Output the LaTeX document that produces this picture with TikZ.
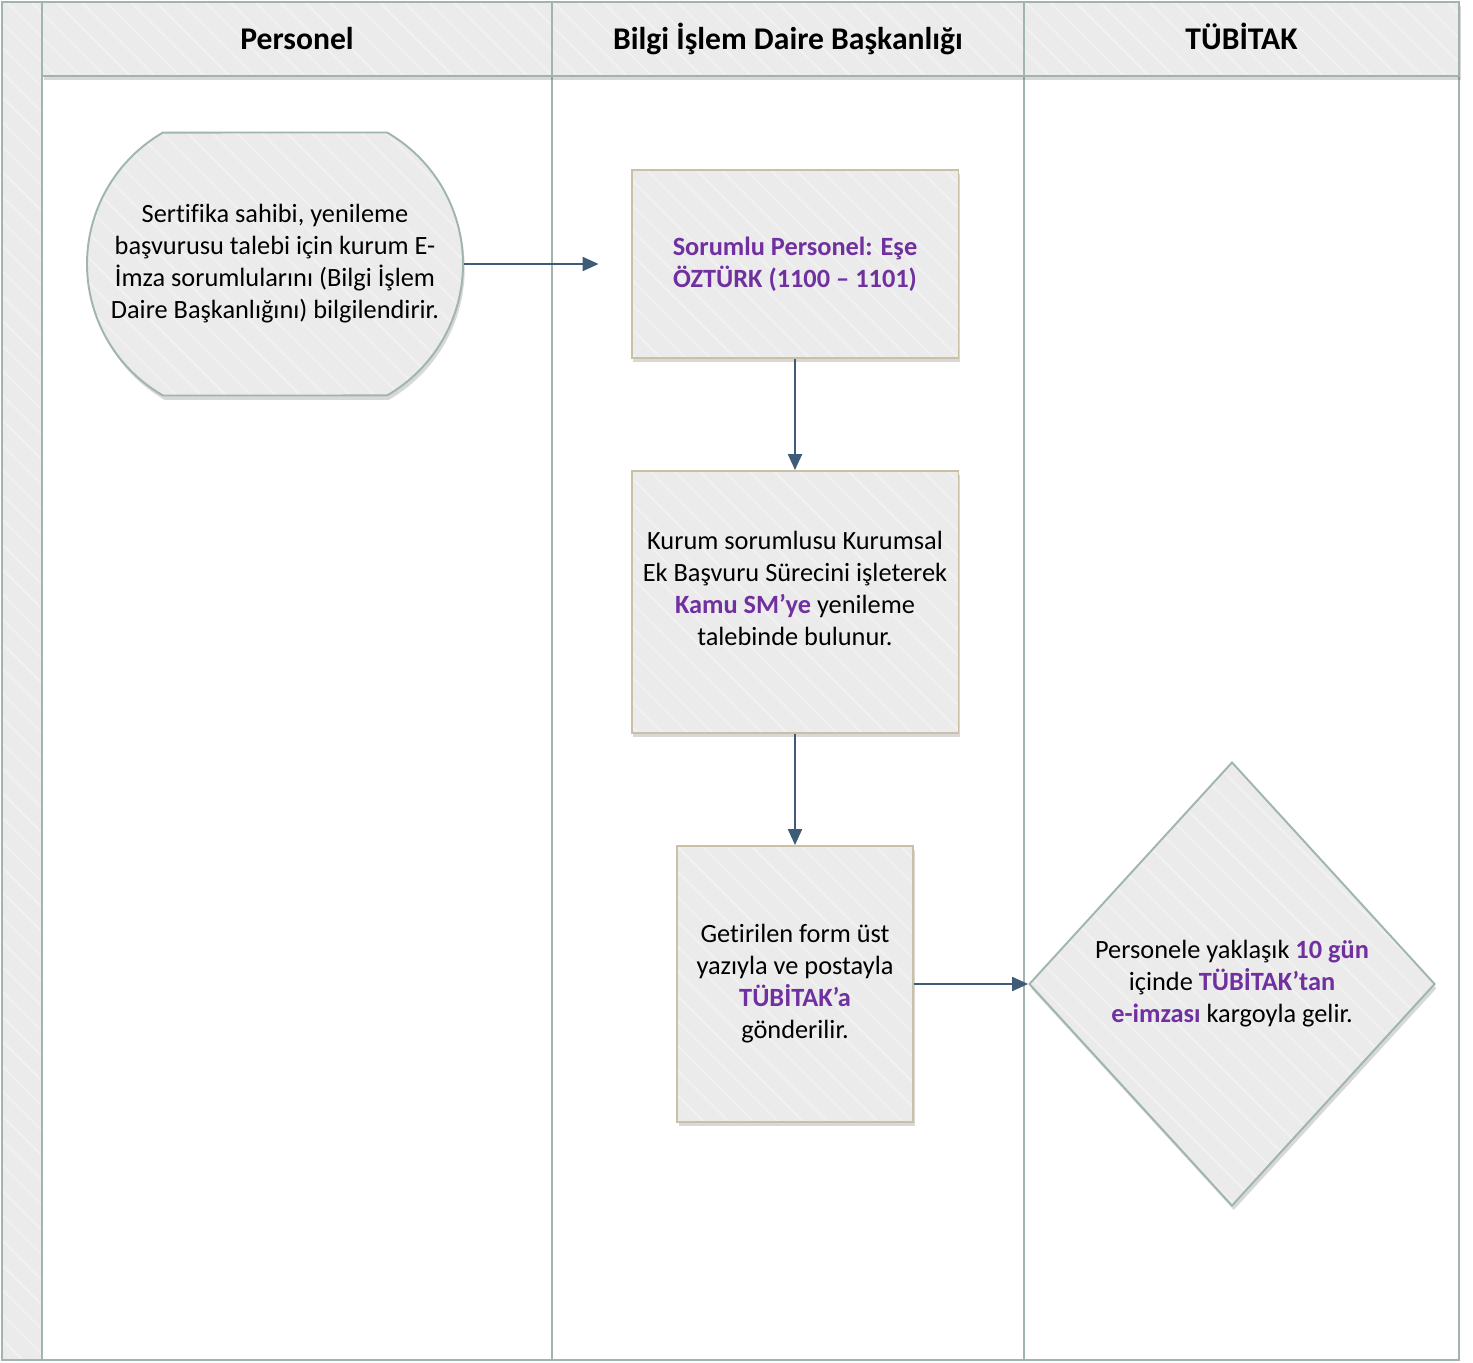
\documentclass[tikz,border=0pt]{standalone}
\usepackage{fontspec}
\setmainfont{Carlito}[Ligatures=NoCommon]
\usepackage{tikz}
\usetikzlibrary{shapes.geometric, shapes.misc, arrows.meta, shadows, patterns.meta}
\definecolor{lane}{RGB}{160, 181, 174}
\definecolor{boxline}{RGB}{201, 192, 166}
\definecolor{shade}{RGB}{235, 235, 235}
\definecolor{stripe}{RGB}{241, 241, 241}
\definecolor{flow}{RGB}{62, 91, 120}
\definecolor{accent}{RGB}{112, 48, 160}

\tikzset{
  hatch/.style={preaction={fill=shade}, preaction={pattern={Lines[angle=-45, distance=10pt, line width=1.2pt]}, pattern color=stripe}},
  softshadow/.style={drop shadow={shadow xshift=1pt, shadow yshift=-2.5pt, opacity=0.22, fill=black!70}},
  body/.style={font=\fontsize{15}{18.2}\selectfont, align=center, inner sep=0pt},
  header/.style={font=\fontsize{18}{22}\selectfont\bfseries, anchor=base},
  task/.style={body, rectangle, softshadow, hatch, draw=boxline, line width=1.1pt},
  terminal/.style={body, rounded rectangle, rounded rectangle arc length=120, softshadow, hatch, draw=lane, line width=1.1pt},
  choice/.style={body, diamond, softshadow, hatch, draw=lane, line width=1.1pt},
  flowline/.style={->, >={Triangle[length=0.32cm, width=0.28cm]}, draw=flow, line width=1.2pt},
}

\begin{document}
\begin{tikzpicture}[x=0.02cm, y=-0.02cm]
  \useasboundingbox (0, 0) rectangle (1473, 1362);

  % pool
  \draw[hatch, draw=lane, line width=1.1pt] (2, 2) rectangle (42, 1360);
  \foreach \l/\u in {42/552, 552/1024, 1024/1459} {
    \draw[draw=lane, line width=1.1pt] (\l, 76) rectangle (\u, 1360);
  }
  \foreach \l/\u/\lab [count=\i] in {42/552/Personel, 552/1024/{Bilgi İşlem Daire Başkanlığı}, 1024/1459/TÜBİTAK} {
    \draw[softshadow, hatch, draw=lane, line width=1.1pt] (\l, 2) rectangle (\u, 76);
    \node[header] (head\i) at ({(\l + \u) / 2}, 50) {\lab};
  }

  % steps
  \node[terminal, minimum width=7.52cm, minimum height=5.26cm] (notify) at (275, 264)
    {Sertifika sahibi, yenileme\\başvurusu talebi için kurum E-\\İmza sorumlularını (Bilgi İşlem\\Daire Başkanlığını) bilgilendirir.};
  \node[task, minimum width=6.54cm, minimum height=3.76cm] (contact) at (795, 264)
    {\color{accent}\bfseries Sorumlu Personel: Eşe\\\color{accent}\bfseries ÖZTÜRK (1100 – 1101)};
  \node[task, minimum width=6.54cm, minimum height=5.24cm] (request) at (795, 602)
    {Kurum sorumlusu Kurumsal\\Ek Başvuru Sürecini işleterek\\\textcolor{accent}{\bfseries Kamu SM’ye} yenileme\\talebinde bulunur.\\[-2.5pt]};
  \node[task, minimum width=4.72cm, minimum height=5.52cm] (send) at (795, 984)
    {Getirilen form üst\\yazıyla ve postayla\\\textcolor{accent}{\bfseries TÜBİTAK’a}\\gönderilir.};
  \node[choice, minimum width=8.12cm, minimum height=8.88cm] (arrive) at (1232, 984)
    {Personele yaklaşık \textcolor{accent}{\bfseries 10 gün}\\içinde \textcolor{accent}{\bfseries TÜBİTAK’tan}\\\textcolor{accent}{\bfseries e-imzası} kargoyla gelir.};

  % flow
  \draw[flowline, shorten >=0.64cm] (notify.east) -- (contact.west);
  \draw[flowline] (contact) -- (request);
  \draw[flowline] (request) -- (send);
  \draw[flowline] (send.east) -- (arrive.west);
\end{tikzpicture}
\end{document}
